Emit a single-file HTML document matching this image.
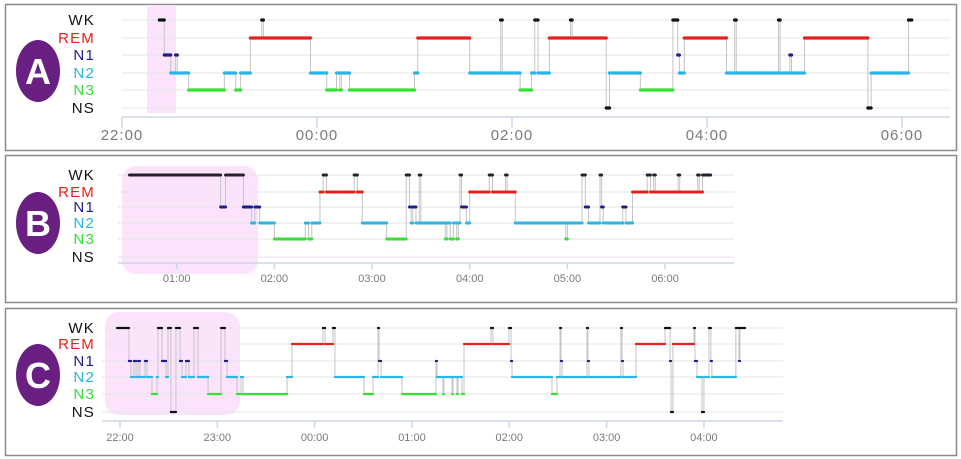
<!DOCTYPE html>
<html><head><meta charset="utf-8"><style>
body{margin:0;background:#fff;width:961px;height:459px;overflow:hidden;font-family:"Liberation Sans",sans-serif}
svg{display:block}
</style></head><body>
<svg id="chart" width="961" height="459" xmlns="http://www.w3.org/2000/svg"></svg>
<script>
// Panel A: minutes since 22:00
const aTimes=[23,26,30,33,34,41,63,70,73,79,86,87,116,126,132,134,135,140,180,182,214,233,234,245,252,254,256,263,276,277,298,300,319,339,342,343,346,372,377,378,404,405,411,412,420,459,461,484,486];
const aStages=["WK","N1","N2","N1","N2","N3","N2","N3","N2","REM","WK","REM","N2","N3","N2","N3","N2","N3","N2","REM","N2","WK","N2","N3","N2","WK","N2","REM","WK","REM","NS","N2","N3","WK","N1","N2","REM","N2","WK","N2","WK","N2","N1","N2","REM","NS","N2","WK"];
const aTickMins=[0,120,240,360,480];
const aTickLabels=["22:00","00:00","02:00","04:00","06:00"];
// Panel B: minutes since 00:00
const bTimes=[31,87,90,101,106,108,111,120,139,141,143,148,150,152,169,171,174,189,201,203,204,205,207,209,210,225,226,228,230,232,233,234,235,238,240,252,254,262,263,268,299,300,309,311,313,320,321,322,334,336,340,349,351,353,354,368,369,380,381,383,388];
const bStages=["WK","N1","WK","N1","N2","N1","N2","N3","N2","N3","N2","REM","WK","REM","WK","REM","N2","N3","WK","N1","N2","N1","N2","WK","N2","N3","N2","N3","N2","N3","N2","WK","N1","N2","REM","WK","REM","WK","REM","N2","N3","N2","WK","N1","N2","WK","N1","N2","N1","N2","REM","WK","REM","WK","REM","WK","REM","WK","REM","WK"];
const bTickMins=[60,120,180,240,300,360];
const bTickLabels=["01:00","02:00","03:00","04:00","05:00","06:00"];
// Panel C: minutes since 22:00
const cTimes=[-1.8,5.5,6.8,8.6,9.9,11.1,12.3,15.4,16.6,19.7,22.8,23.4,25.9,28.4,29.6,31.4,34.5,37.0,38.2,40.7,42.5,45.6,48.1,54.3,62.3,64.7,66.0,72.1,74.6,75.8,103.0,106.0,125.1,126.4,131.3,132.5,150.4,156.0,159.1,159.7,160.9,173.9,194.8,195.4,199.1,199.7,204.7,205.3,207.8,208.4,210.8,212.1,228.7,229.9,239.8,241.1,241.7,266.3,269.4,271.3,271.9,272.5,287.9,288.5,289.1,308.8,309.5,310.1,318.1,336.0,339.1,339.7,340.9,353.9,354.5,355.7,358.8,360.0,363.1,364.3,364.9,379.7,381.6,382.2,385.3];
const cStages=["WK","N1","N2","N1","N2","N1","N2","N1","N2","N3","N2","WK","N1","N2","WK","NS","WK","N1","N2","N1","N2","WK","N2","N3","WK","N1","N2","N3","N2","N3","N2","REM","WK","REM","WK","N2","N3","N2","WK","N1","N2","N3","N1","N2","N3","N2","N3","N2","N3","N2","N3","REM","WK","REM","WK","N1","N2","N3","N2","WK","N1","N2","WK","N1","N2","WK","N1","N2","REM","WK","N1","NS","REM","WK","N1","N2","NS","N2","WK","N1","N2","WK","N1","WK"];
const cTickMins=[0,60,120,180,240,300,360];
const cTickLabels=["22:00","23:00","00:00","01:00","02:00","03:00","04:00"];

const stageNames=["WK","REM","N1","N2","N3","NS"];
const stageColors={WK:"#111",REM:"#e8201c",N1:"#1c1c8c",N2:"#2bb4e6",N3:"#33e033",NS:"#111"};
const NS="http://www.w3.org/2000/svg";
const svg=document.getElementById('chart');
function mk(tag,attrs,parent){const e=document.createElementNS(NS,tag);for(const k in attrs)e.setAttribute(k,attrs[k]);(parent||svg).appendChild(e);return e;}

const panels=[
 {id:"a",letter:"A",box:[5,4,951,146],rowY:[20,38,55,73,90,108],x0:122,ppm:1.625,gx:[122,950],axisY:117,tickLen:11,tickFont:15,tickY:140,hl:[147,5,29,108,0],times:aTimes,stages:aStages,ticks:aTickMins,tlab:aTickLabels,cy:71,sw:3.2},
 {id:"b",letter:"B",box:[5,155,951,147],rowY:[175,192,207,223,239,257],x0:79,ppm:1.628,gx:[118,734],axisY:263,tickLen:6,tickFont:11,tickY:282,hl:[122,166,136,108,14],times:bTimes,stages:bStages,ticks:bTickMins,tlab:bTickLabels,cy:223,sw:3},
 {id:"c",letter:"C",box:[5,308,951,147],rowY:[328,344,361,377,394,412],x0:120,ppm:1.622,gx:[102,783],axisY:421,tickLen:7,tickFont:11,tickY:441,hl:[105,312,135,103,14],times:cTimes,stages:cStages,ticks:cTickMins,tlab:cTickLabels,cy:375,sw:2.3}
];

panels.forEach(p=>{
 const g=mk('g',{});
 
 
 const box=mk('rect',{x:p.box[0]+.5,y:p.box[1]+.5,width:p.box[2],height:p.box[3],fill:'#fff',stroke:'#8a8a8a','stroke-width':1.5},g);
 
 
 const hl=mk('rect',{x:p.hl[0],y:p.hl[1],width:p.hl[2],height:p.hl[3],rx:p.hl[4],fill:'#fbe4fb'},g);
 
 
 p.rowY.forEach((y,i)=>{
  const l=mk('line',{x1:p.gx[0],x2:p.gx[1],y1:y,y2:y,stroke:'#e4e4e8','stroke-width':1},g);
  
  
  const t=mk('text',{x:95,y:y+5,'text-anchor':'end','font-size':15,fill:stageColors[stageNames[i]],'letter-spacing':'1.2'},g);
  t.textContent=stageNames[i];
  
  
 });
 const ax=mk('line',{x1:p.gx[0],x2:p.gx[1],y1:p.axisY,y2:p.axisY,stroke:'#cdd5e6','stroke-width':1.5},g);
 
 
 const X=m=>p.x0+m*p.ppm;
 p.ticks.forEach((m,i)=>{
  const x=X(m);
  const tk=mk('line',{x1:x,x2:x,y1:p.axisY,y2:p.axisY+p.tickLen,stroke:'#cdd5e6','stroke-width':1.5},g);
  
  
  const tl=mk('text',{x:x,y:p.tickY,'text-anchor':'middle','font-size':p.tickFont,fill:'#7a7a7a','letter-spacing':p.tickFont>12?'1':'0'},g);
  tl.textContent=p.tlab[i];
  
  
 });
 const Y=s=>p.rowY[stageNames.indexOf(s)];
 const n=Math.min(p.stages.length,p.times.length-1);
 for(let i=1;i<n;i++){
  const x=X(p.times[i]);
  const c=mk('line',{x1:x,x2:x,y1:Y(p.stages[i-1]),y2:Y(p.stages[i]),stroke:'#c4c4c8','stroke-width':1},g);
  
  
 }
 for(let i=0;i<n;i++){
  const s=p.stages[i],y=Y(s);
  const seg=mk('line',{x1:X(p.times[i]),x2:X(p.times[i+1]),y1:y,y2:y,stroke:s==="WK"&&p.id==="b"?'#2a1f2e':stageColors[s],'stroke-width':p.sw,'stroke-linecap':'round'},g);
  
  
 }
 const el=mk('ellipse',{cx:38,cy:p.cy,rx:22,ry:31,fill:'#6a2082'},g);
 
 
 const lt=mk('text',{x:38,y:p.cy+13,'text-anchor':'middle','font-size':36,'font-weight':'bold',fill:'#fff'},g);
 lt.textContent=p.letter;
 
 
});
</script>
</body></html>
